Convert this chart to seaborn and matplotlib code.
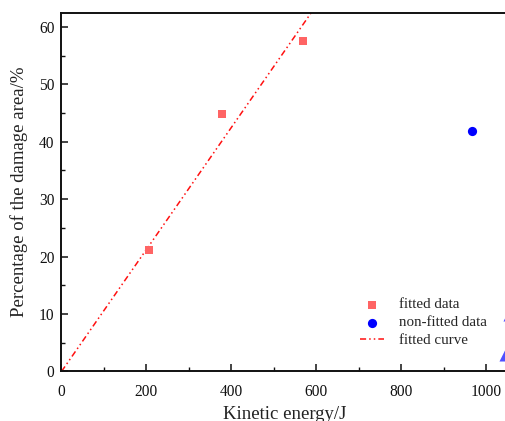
import numpy as np
import pandas as pd
import matplotlib
matplotlib.use("Agg")
import matplotlib.pyplot as plt
from matplotlib.ticker import MultipleLocator
import seaborn as sns

# Measured points used for the linear fit
fitted_energy = [206, 378, 569]
fitted_area = [21.2, 44.8, 57.6]

# Points left out of the fit
nonfit_energy = [966]
nonfit_area = [41.9]

# Further high-energy measurements
extra_energy = [1043, 1053]
extra_area = [2.8, 9.9]

# Fitted line through the origin: area = slope * energy
fit_slope = 0.1063
fit_energy_range = [0, 620]

sns.set_theme(style="ticks")
plt.rcParams["font.family"] = ["Liberation Serif", "DejaVu Serif"]
plt.rcParams["mathtext.fontset"] = "stix"

fig = plt.figure(figsize=(5.06, 4.21), dpi=100)
ax = fig.add_axes([0.1215, 0.1176, 0.8819, 0.8527])

fit_df = pd.DataFrame({"energy": fit_energy_range})
fit_df["area"] = fit_slope * fit_df["energy"]

sns.lineplot(data=fit_df, x="energy", y="area", ax=ax, color="#FF1010",
             linewidth=1.1, linestyle=(0, (4, 2, 1, 2, 1, 2)),
             label="fitted curve", zorder=2)
sns.scatterplot(x=fitted_energy, y=fitted_area, ax=ax, marker="s", s=40,
                color="#FF6464", linewidth=0, label="fitted data", zorder=3)
sns.scatterplot(x=nonfit_energy, y=nonfit_area, ax=ax, marker="o", s=44,
                color="#0000FF", linewidth=0, label="non-fitted data", zorder=3)
sns.scatterplot(x=extra_energy, y=extra_area, ax=ax, marker="^", s=75,
                color="#5050FF", linewidth=0, legend=False, zorder=3,
                clip_on=False)

ax.set_xlim(0, 1050)
ax.set_ylim(0, 62.5)
ax.xaxis.set_major_locator(MultipleLocator(200))
ax.xaxis.set_minor_locator(MultipleLocator(100))
ax.yaxis.set_major_locator(MultipleLocator(10))
ax.yaxis.set_minor_locator(MultipleLocator(5))

for side in ["left", "bottom", "top", "right"]:
    ax.spines[side].set_linewidth(1.4)
    ax.spines[side].set_color("#111111")

ax.tick_params(axis="both", which="major", direction="in", length=5,
               width=1.1, labelsize=11.2, colors="#111111")
ax.tick_params(axis="both", which="minor", direction="in", length=3,
               width=1.0, colors="#111111")
ax.tick_params(axis="x", which="both", pad=9, top=False)
ax.tick_params(axis="y", which="both", pad=5, right=False)

ax.set_xlabel("Kinetic energy/J", fontsize=13.5, labelpad=4, color="#222222")
ax.set_ylabel("Percentage of the damage area/%", fontsize=13.5, labelpad=8,
              color="#222222")

handles, labels = ax.get_legend_handles_labels()
order = ["fitted data", "non-fitted data", "fitted curve"]
hmap = dict(zip(labels, handles))
ax.legend([hmap[k] for k in order], order, loc="upper left",
          bbox_to_anchor=(360 / 506, 1 - 298 / 421),
          bbox_transform=fig.transFigure, frameon=False, fontsize=10.8,
          borderpad=0, borderaxespad=0, handlelength=1.6, handletextpad=1.0,
          labelspacing=0.3)

fig.savefig("out.png", dpi=100)
